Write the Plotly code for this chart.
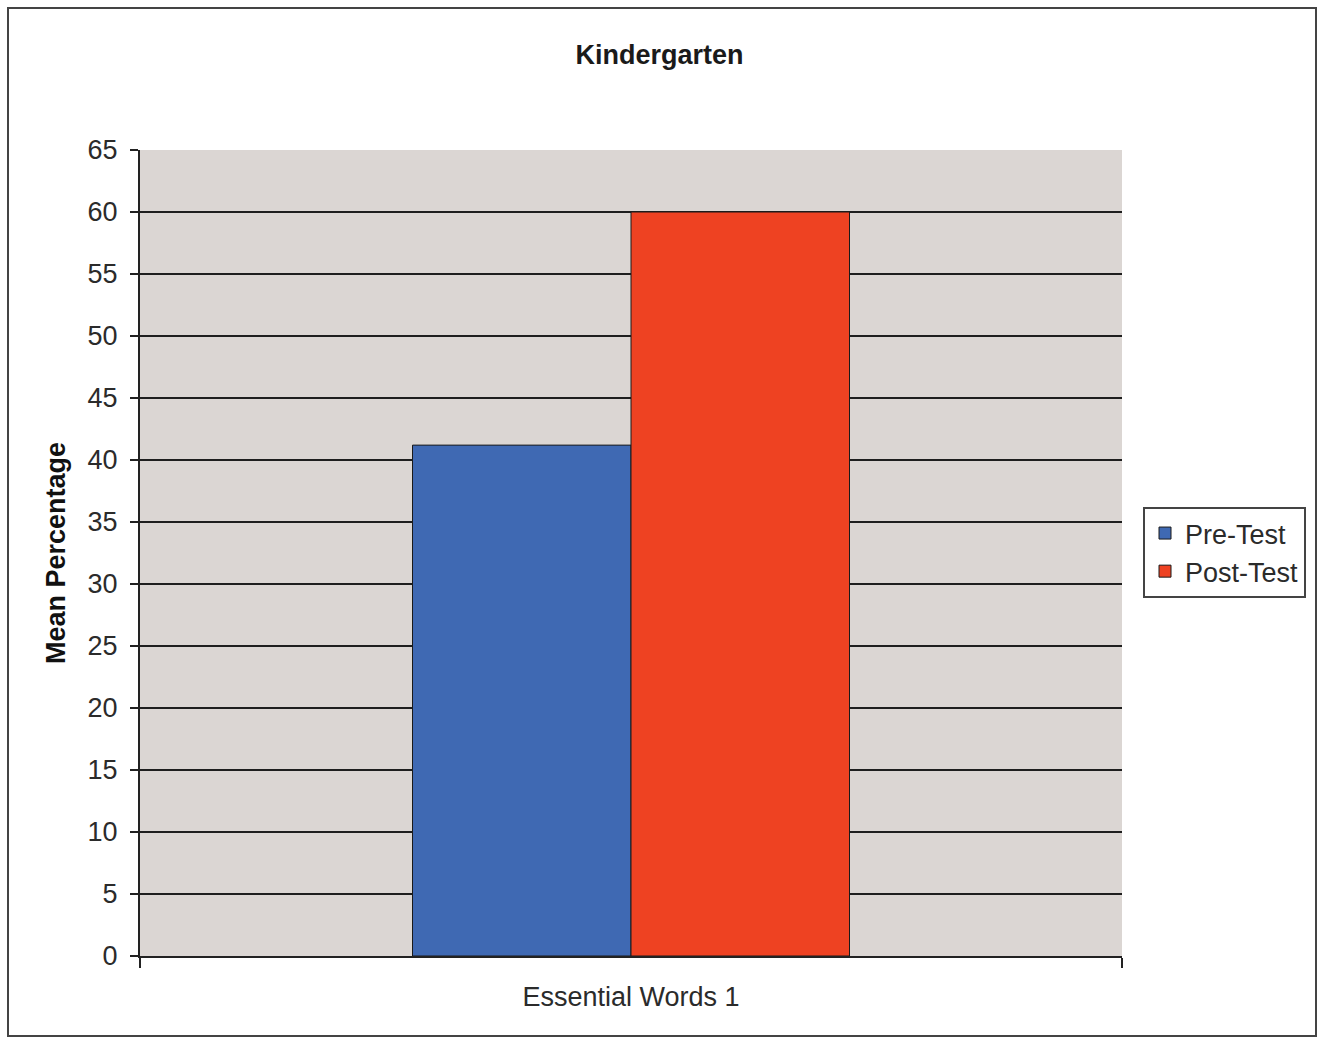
import plotly.graph_objects as go

categories = ["Essential Words 1"]
pre_test = [41.2]
post_test = [60]
series_names = ["Pre-Test", "Post-Test"]
y_ticks = list(range(0, 66, 5))

W, H = 1319, 1039
L, R, T, B = 140, 1122, 150, 956  # plot area pixel edges

def px(x):
    return (x - L) / (R - L)

def py(y):
    return (B - y) / (B - T)

FONT = "Liberation Sans, Arial, sans-serif"
TXT = "#2b2b2b"

fig = go.Figure()
fig.add_trace(go.Bar(x=categories, y=pre_test, name=series_names[0],
                     marker=dict(color="#3f69b3", line=dict(color="#1a1a1a", width=1))))
fig.add_trace(go.Bar(x=categories, y=post_test, name=series_names[1],
                     marker=dict(color="#ee4222", line=dict(color="#1a1a1a", width=1))))

fig.update_layout(
    width=W, height=H,
    margin=dict(l=L, r=W - R, t=T, b=H - B, autoexpand=False),
    paper_bgcolor="white",
    plot_bgcolor="#dbd6d3",
    barmode="group",
    bargap=0.555,
    bargroupgap=0,
    font=dict(family=FONT, size=27, color=TXT),
    title=dict(text="<b>Kindergarten</b>", x=0.5, xanchor="center",
               y=1 - 55 / H, yanchor="middle",
               font=dict(family=FONT, size=27, color="#1a1a1a")),
    showlegend=True,
    legend=dict(x=px(1143), y=py(507), xanchor="left", yanchor="top",
                bgcolor="white", bordercolor="#444", borderwidth=2,
                font=dict(family=FONT, size=27, color=TXT),
                itemwidth=30, tracegroupgap=0),
)

fig.update_xaxes(
    type="category",
    showline=True, linecolor="#222", linewidth=2,
    ticks="outside", tickson="boundaries", ticklen=10, tickcolor="#222", tickwidth=2,
    ticklabelstandoff=16,
    showgrid=False, zeroline=False,
    tickfont=dict(family=FONT, size=27, color=TXT),
    automargin=False,
)
fig.update_yaxes(
    range=[0, 65],
    tickvals=y_ticks,
    showline=True, linecolor="#222", linewidth=2,
    ticks="outside", ticklen=8, tickcolor="#222", tickwidth=2,
    ticklabelstandoff=7,
    showgrid=True, gridcolor="#1e1e1e", gridwidth=1.5,
    zeroline=False,
    tickfont=dict(family=FONT, size=27, color=TXT),
    title=dict(text="<b>Mean Percentage</b>", standoff=14,
               font=dict(family=FONT, size=27, color="#111")),
    automargin=False,
)

# outer chart border
fig.add_shape(type="rect", xref="paper", yref="paper",
              x0=px(8), x1=px(1316), y0=py(1036), y1=py(8),
              line=dict(color="#444", width=2), fillcolor="rgba(0,0,0,0)",
              layer="below")

fig.write_html("out.html")
